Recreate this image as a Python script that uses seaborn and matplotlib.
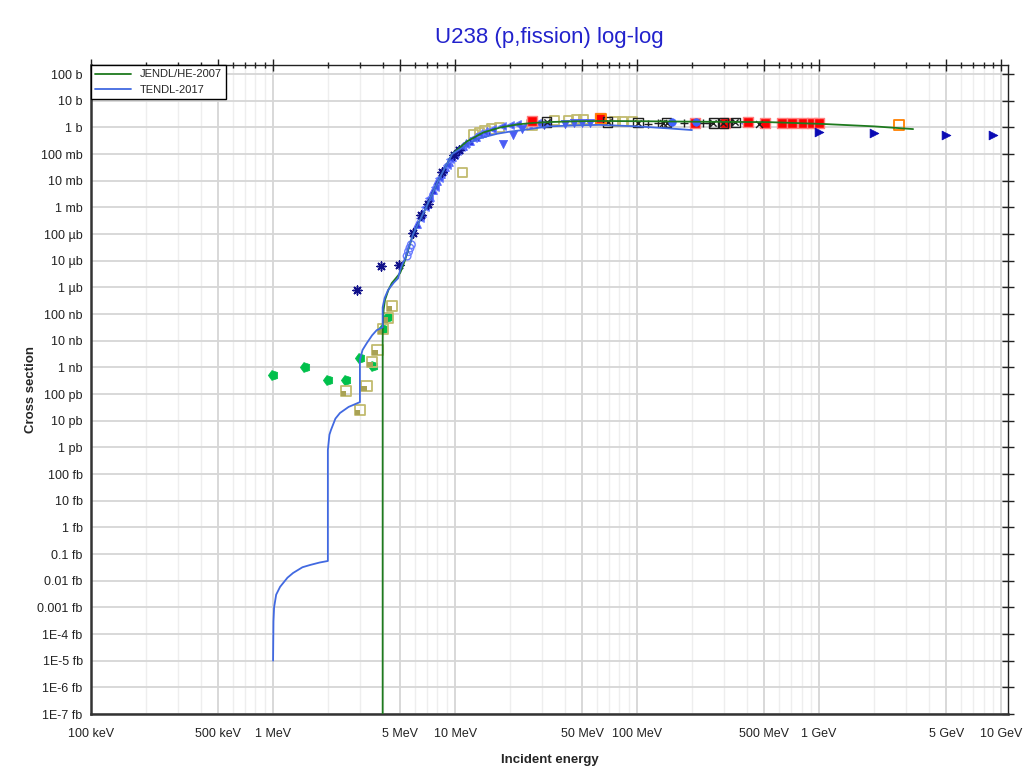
import numpy as np
import pandas as pd
import matplotlib
matplotlib.use("Agg")
import matplotlib.pyplot as plt
from matplotlib.markers import MarkerStyle
from matplotlib.path import Path
from matplotlib.transforms import Affine2D
import matplotlib.ticker as mticker
import seaborn as sns

# evaluated curves (energy in MeV, cross section in barns)
jendl_e = [4.0, 4.0, 4.01, 4.05, 4.12, 4.3, 4.49, 4.75, 4.99, 5.15, 5.31, 5.88, 6.93, 8.07, 9.63,
           11.6, 14.3, 17.7, 22.0, 26.8, 33.3, 45.0, 62.7, 100.0, 200.0, 537.0, 1060.0, 2000.0, 3280.0]
jendl_xs = [1e-30, 1e-8, 5e-8, 1.5e-7, 3.4e-7, 8e-7, 1.45e-6, 2.3e-6, 3.5e-6, 6e-6, 1.07e-5, 1e-4, 1e-3, 1e-2, 0.1,
            0.3, 0.65, 1.0, 1.3, 1.48, 1.6, 1.7, 1.75, 1.72, 1.65, 1.58, 1.35, 1.1, 0.87]

tendl_e = [1.0, 1.005, 1.013, 1.04, 1.093, 1.2, 1.288, 1.45, 1.6, 1.8, 2.0, 2.0, 2.04, 2.08, 2.2, 2.33,
           2.6, 3.0, 3.0, 3.1, 3.27, 3.5, 3.71, 4.0, 4.0, 4.1, 4.28, 4.6, 4.86, 4.99, 5.15, 5.31, 5.88,
           6.93, 8.07, 9.63, 11.6, 13.0, 14.7, 17.0, 20.0, 23.6, 28.0, 33.3, 45.0, 62.0, 100.0, 150.0, 200.0]
tendl_xs = [1.0e-20, 3e-19, 1.0e-18, 3e-18, 5.9e-18, 1.3e-17, 1.95e-17, 3.2e-17, 3.9e-17, 4.8e-17, 5.5e-17,
            8e-13, 3e-12, 4.5e-12, 1.2e-11, 1.95e-11, 3.3e-11, 5e-11, 1.9e-9, 4.5e-9, 8.1e-9, 1.6e-8,
            2.5e-8, 3.2e-8, 1.8e-7, 4e-7, 7.9e-7, 1.5e-6, 2.2e-6, 4.5e-6, 8e-6, 1.2e-5, 1e-4,
            1e-3, 1e-2, 0.1, 0.22, 0.35, 0.45, 0.58, 0.7, 0.8, 0.95, 1.1, 1.2, 1.25, 1.1, 0.92, 0.8]

# experimental data
green_e = [1.0, 1.5, 2.0, 2.5, 3.0, 3.55, 4.0, 4.3]
green_xs = [5.4e-10, 1.07e-9, 3.4e-10, 3.4e-10, 2.2e-9, 1.1e-9, 2.75e-8, 7.6e-8]

olive_e = [4.49, 4.27, 4.0, 3.74, 3.51, 3.26, 2.51, 3.0]
olive_xs = [2e-7, 7.3e-8, 2.75e-8, 4.5e-9, 1.6e-9, 2e-10, 1.3e-10, 2.5e-11]

olive2_e = [11.0, 12.6, 13.6, 14.6, 15.9, 17.5, 26.4, 35.3, 41.8, 46.4, 50.6, 75.5, 83.0, 94.5]
olive2_xs = [0.02, 0.55, 0.65, 0.75, 0.87, 0.98, 1.24, 1.87, 1.87, 2.0, 1.95, 1.69, 1.69, 1.69]

star_e = [2.9, 3.92, 4.94, 5.9, 6.5, 7.14, 8.5, 9.8, 10.5]
star_xs = [7.9e-7, 6.3e-6, 7.2e-6, 1.07e-4, 5e-4, 1.4e-3, 2.2e-2, 0.09, 0.14]

circ_e = [5.45, 5.55, 5.65, 5.75]
circ_xs = [1.5e-5, 2.2e-5, 3e-5, 4e-5]

up_e = [6.2, 6.6, 7.0, 7.3, 7.6, 8.0, 8.4, 8.8, 9.2, 9.6, 10.0, 10.5, 11.0, 11.5, 12.0, 13.0, 14.0, 15.0]
up_xs = [2.5e-4, 6e-4, 1.4e-3, 2.5e-3, 4.5e-3, 1.0e-2, 1.8e-2, 3.2e-2, 5e-2, 8e-2, 0.11, 0.15, 0.2, 0.26,
         0.32, 0.45, 0.6, 0.75]

left_e = [6.4, 6.8, 7.2, 7.8, 8.2, 8.6, 9.0, 9.4, 9.8, 10.3, 10.8, 11.3, 12.5, 13.5, 14.5, 16.0, 18.0,
          20.0, 22.0, 25.0, 28.0, 32.0, 390.0]
left_xs = [4e-4, 1e-3, 2.2e-3, 6e-3, 1.3e-2, 2.5e-2, 4e-2, 6.5e-2, 0.09, 0.13, 0.18, 0.24, 0.4, 0.55, 0.7,
           0.9, 1.1, 1.2, 1.3, 1.4, 1.45, 1.5, 1.5]

down_e = [18.3, 20.9, 23.2, 30.6, 40.0, 45.0, 50.0, 55.0]
down_xs = [0.23, 0.51, 0.84, 1.2, 1.4, 1.5, 1.5, 1.45]

red_e = [26.4, 62.7, 208.0, 305.0, 409.0, 505.0, 624.0, 708.0, 820.0, 912.0, 1000.0]
red_xs = [1.78, 2.2, 1.46, 1.46, 1.55, 1.46, 1.5, 1.5, 1.46, 1.46, 1.46]

boxx_e = [31.8, 69.0, 101.0, 145.0, 262.0, 298.0, 346.0]
boxx_xs = [1.6, 1.6, 1.5, 1.5, 1.46, 1.46, 1.55]

plus_e = [115.0, 130.0, 180.0, 230.0, 250.0, 330.0]
plus_xs = [1.4, 1.46, 1.46, 1.46, 1.46, 1.55]

cross_e = [139.0, 470.0]
cross_xs = [1.46, 1.4]

bdot_e = [155.0, 210.0]
bdot_xs = [1.55, 1.55]

tri_r_e = [1000.0, 2000.0, 5000.0, 9000.0]
tri_r_xs = [0.68, 0.63, 0.53, 0.5]

orange_e = [63.0, 2750.0]
orange_xs = [2.1, 1.28]

y_ticks = [1e2, 1e1, 1, 1e-1, 1e-2, 1e-3, 1e-4, 1e-5, 1e-6, 1e-7, 1e-8, 1e-9, 1e-10, 1e-11, 1e-12,
           1e-13, 1e-14, 1e-15, 1e-16, 1e-17, 1e-18, 1e-19, 1e-20, 1e-21, 1e-22]
y_labels = ["100 b", "10 b", "1 b", "100 mb", "10 mb", "1 mb", "100 µb", "10 µb", "1 µb", "100 nb",
            "10 nb", "1 nb", "100 pb", "10 pb", "1 pb", "100 fb", "10 fb", "1 fb", "0.1 fb", "0.01 fb",
            "0.001 fb", "1E-4 fb", "1E-5 fb", "1E-6 fb", "1E-7 fb"]
x_ticks = [0.1, 0.5, 1, 5, 10, 50, 100, 500, 1000, 5000, 10000]
x_labels = ["100 keV", "500 keV", "1 MeV", "5 MeV", "10 MeV", "50 MeV", "100 MeV", "500 MeV",
            "1 GeV", "5 GeV", "10 GeV"]

sns.set_theme(style="white")
plt.rcParams["font.family"] = ["Liberation Sans", "DejaVu Sans"]

fig = plt.figure(figsize=(10.24, 7.74), dpi=100)
ax = fig.add_axes([0.0889, 0.0775, 0.8955, 0.8385])
ax.set(xscale="log", yscale="log")

# markers
house = MarkerStyle("p", transform=Affine2D().rotate_deg(90))
corner = Path([(-1, -1), (0.05, -1), (0.05, 0.05), (-1, 0.05), (-1, -1)],
              [Path.MOVETO, Path.LINETO, Path.LINETO, Path.LINETO, Path.CLOSEPOLY])

sns.scatterplot(x=green_e, y=green_xs, marker=house, s=55, color="#00c04b", edgecolor="#00c04b", linewidth=0.5, ax=ax, zorder=3)
sns.scatterplot(x=olive_e, y=olive_xs, marker="s", s=55, facecolor="none", edgecolor="#c2bb6e", linewidth=1.3, ax=ax, zorder=3)
sns.scatterplot(x=olive_e, y=olive_xs, marker=corner, s=55, color="#a9a255", edgecolor="none", linewidth=0, ax=ax, zorder=3)
sns.scatterplot(x=olive2_e, y=olive2_xs, marker="s", s=45, facecolor="none", edgecolor="#c2bb6e", linewidth=1.3, ax=ax, zorder=3)
sns.scatterplot(x=up_e, y=up_xs, marker="^", s=30, color="#2828e0", edgecolor="#5a6cff", linewidth=0.8, ax=ax, zorder=3)
sns.scatterplot(x=left_e, y=left_xs, marker="<", s=30, color="#3c50f0", edgecolor="#6a7cff", linewidth=0.8, ax=ax, zorder=3)
sns.scatterplot(x=down_e, y=down_xs, marker="v", s=35, color="#4a5cf5", edgecolor="#4a5cf5", linewidth=0.5, ax=ax, zorder=3)
sns.scatterplot(x=circ_e, y=circ_xs, marker="o", s=30, facecolor="none", edgecolor="#6a7cff", linewidth=1.0, ax=ax, zorder=3)
sns.scatterplot(x=star_e, y=star_xs, marker=(8, 2, 0), s=40, color="#10108a", linewidth=1.1, ax=ax, zorder=3)
sns.scatterplot(x=red_e, y=red_xs, marker="s", s=50, color="#ff0000", edgecolor="#ff8080", linewidth=1.0, ax=ax, zorder=3)
sns.scatterplot(x=boxx_e, y=boxx_xs, marker="s", s=45, facecolor="none", edgecolor="#202020", linewidth=1.0, ax=ax, zorder=3)
sns.scatterplot(x=boxx_e, y=boxx_xs, marker="x", s=20, color="#202020", linewidth=1.0, ax=ax, zorder=3)
sns.scatterplot(x=plus_e, y=plus_xs, marker="+", s=35, color="#202020", linewidth=1.0, ax=ax, zorder=3)
sns.scatterplot(x=cross_e, y=cross_xs, marker="x", s=25, color="#202020", linewidth=1.0, ax=ax, zorder=3)
sns.scatterplot(x=bdot_e, y=bdot_xs, marker="o", s=30, color="#4060ff", edgecolor="#4060ff", ax=ax, zorder=3)
sns.scatterplot(x=tri_r_e, y=tri_r_xs, marker=">", s=40, color="#0a0ab4", edgecolor="#0a0ab4", ax=ax, zorder=3)
sns.scatterplot(x=orange_e, y=orange_xs, marker="s", s=50, facecolor="none", edgecolor="#ff8000", linewidth=1.3, ax=ax, zorder=3)

# evaluated curves
sns.lineplot(x=jendl_e, y=jendl_xs, estimator=None, sort=False, color="#1e7a1e", lw=1.3,
             label="JENDL/HE-2007", ax=ax, zorder=4)
sns.lineplot(x=tendl_e, y=tendl_xs, estimator=None, sort=False, color="#4169e1", lw=1.3,
             label="TENDL-2017", ax=ax, zorder=4)

ax.set_xlim(0.1, 1.09e4)
ax.set_ylim(1e-22, 2.2e2)
ax.set_xticks(x_ticks, x_labels)
ax.xaxis.set_minor_locator(mticker.FixedLocator(
    [m * 10.0 ** d for d in range(-1, 4) for m in (2, 3, 4, 6, 7, 8, 9)]))
ax.xaxis.set_minor_formatter(mticker.NullFormatter())
ax.set_yticks(y_ticks, y_labels)
ax.yaxis.set_minor_locator(mticker.NullLocator())

ax.grid(which="major", color="#d6d6d6", lw=1.3)
ax.grid(which="minor", axis="x", color="#eeeeee", lw=1.0)
ax.set_axisbelow(True)

ax.tick_params(which="major", direction="inout", length=8, width=1, labelsize=9, colors="#222222",
               top=True, right=True, pad=2)
ax.tick_params(axis="x", which="major", pad=6)
ax.tick_params(which="minor", direction="inout", length=5, width=1, top=True, right=True)
for s in ["left", "bottom"]:
    ax.spines[s].set_linewidth(1.8)
    ax.spines[s].set_color("#333333")
for s in ["top", "right"]:
    ax.spines[s].set_linewidth(1.0)
    ax.spines[s].set_color("#222222")

ax.set_title("U238 (p,fission) log-log", color="#2222cc", fontsize=16, pad=16)
ax.set_xlabel("Incident energy", fontweight="bold", fontsize=9.5, labelpad=10)
ax.set_ylabel("Cross section", fontweight="bold", fontsize=9.5, labelpad=0)

leg = ax.legend(loc="upper left", fontsize=8, frameon=True, fancybox=False, borderaxespad=0,
                handlelength=3.2, framealpha=1)
leg.get_frame().set_edgecolor("black")
leg.get_frame().set_linewidth(1.0)

fig.savefig("out.png", dpi=100)
